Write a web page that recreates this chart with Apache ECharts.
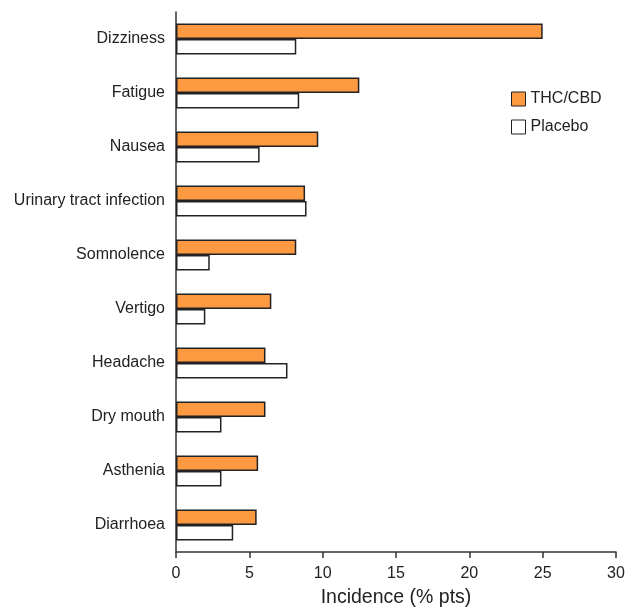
<!DOCTYPE html>
<html>
<head>
<meta charset="utf-8">
<script src="https://cdn.jsdelivr.net/npm/echarts@6/dist/echarts.min.js"></script>
<style>
  html, body { margin: 0; padding: 0; background: #fff; }
  #chart { width: 628px; height: 608px; }
</style>
</head>
<body>
<div id="chart"></div>
<script>
const categories = [
  "Dizziness", "Fatigue", "Nausea", "Urinary tract infection", "Somnolence",
  "Vertigo", "Headache", "Dry mouth", "Asthenia", "Diarrhoea"
];
const thcCbd = [25.0, 12.5, 9.7, 8.8, 8.2, 6.5, 6.1, 6.1, 5.6, 5.5];
const placebo = [8.2, 8.4, 5.7, 8.9, 2.3, 2.0, 7.6, 3.1, 3.1, 3.9];
const xTicks = [0, 5, 10, 15, 20, 25, 30];

const chart = echarts.init(document.getElementById("chart"));
const font = "Liberation Sans, Arial, sans-serif";

chart.setOption({
  animation: false,
  textStyle: { fontFamily: font },
  grid: { left: 176, right: 12, top: 12, bottom: 56, containLabel: false, outerBoundsMode: "none" },
  legend: {
    orient: "vertical",
    left: 506,
    top: 86,
    itemWidth: 14,
    itemHeight: 14,
    itemGap: 12,
    icon: "rect",
    itemStyle: { borderWidth: 1 },
    textStyle: { fontSize: 16, color: "#222", fontFamily: font },
    data: ["THC/CBD", "Placebo"]
  },
  xAxis: {
    type: "value",
    min: xTicks[0],
    max: xTicks[xTicks.length - 1],
    interval: 5,
    name: "Incidence (% pts)",
    nameLocation: "middle",
    nameGap: 36,
    nameTextStyle: { fontSize: 19.5, color: "#222" },
    axisLine: { show: true, lineStyle: { color: "#333", width: 1.5 } },
    axisTick: { show: true, length: 6, lineStyle: { color: "#333", width: 1.5 } },
    axisLabel: { fontSize: 16, color: "#222", margin: 14 },
    splitLine: { show: false }
  },
  yAxis: {
    type: "category",
    inverse: true,
    data: categories,
    axisLine: { show: true, lineStyle: { color: "#333", width: 1.5 } },
    axisTick: { show: false },
    axisLabel: { fontSize: 16, color: "#222", margin: 11 }
  },
  series: [
    {
      name: "THC/CBD",
      type: "bar",
      data: thcCbd,
      barWidth: 15.5,
      barGap: "0%",
      itemStyle: { color: "#fd9940", borderColor: "#222", borderWidth: 1.5 }
    },
    {
      name: "Placebo",
      type: "bar",
      data: placebo,
      barWidth: 15.5,
      barGap: "0%",
      itemStyle: { color: "#fff", borderColor: "#222", borderWidth: 1.5 }
    }
  ]
});
</script>
</body>
</html>
